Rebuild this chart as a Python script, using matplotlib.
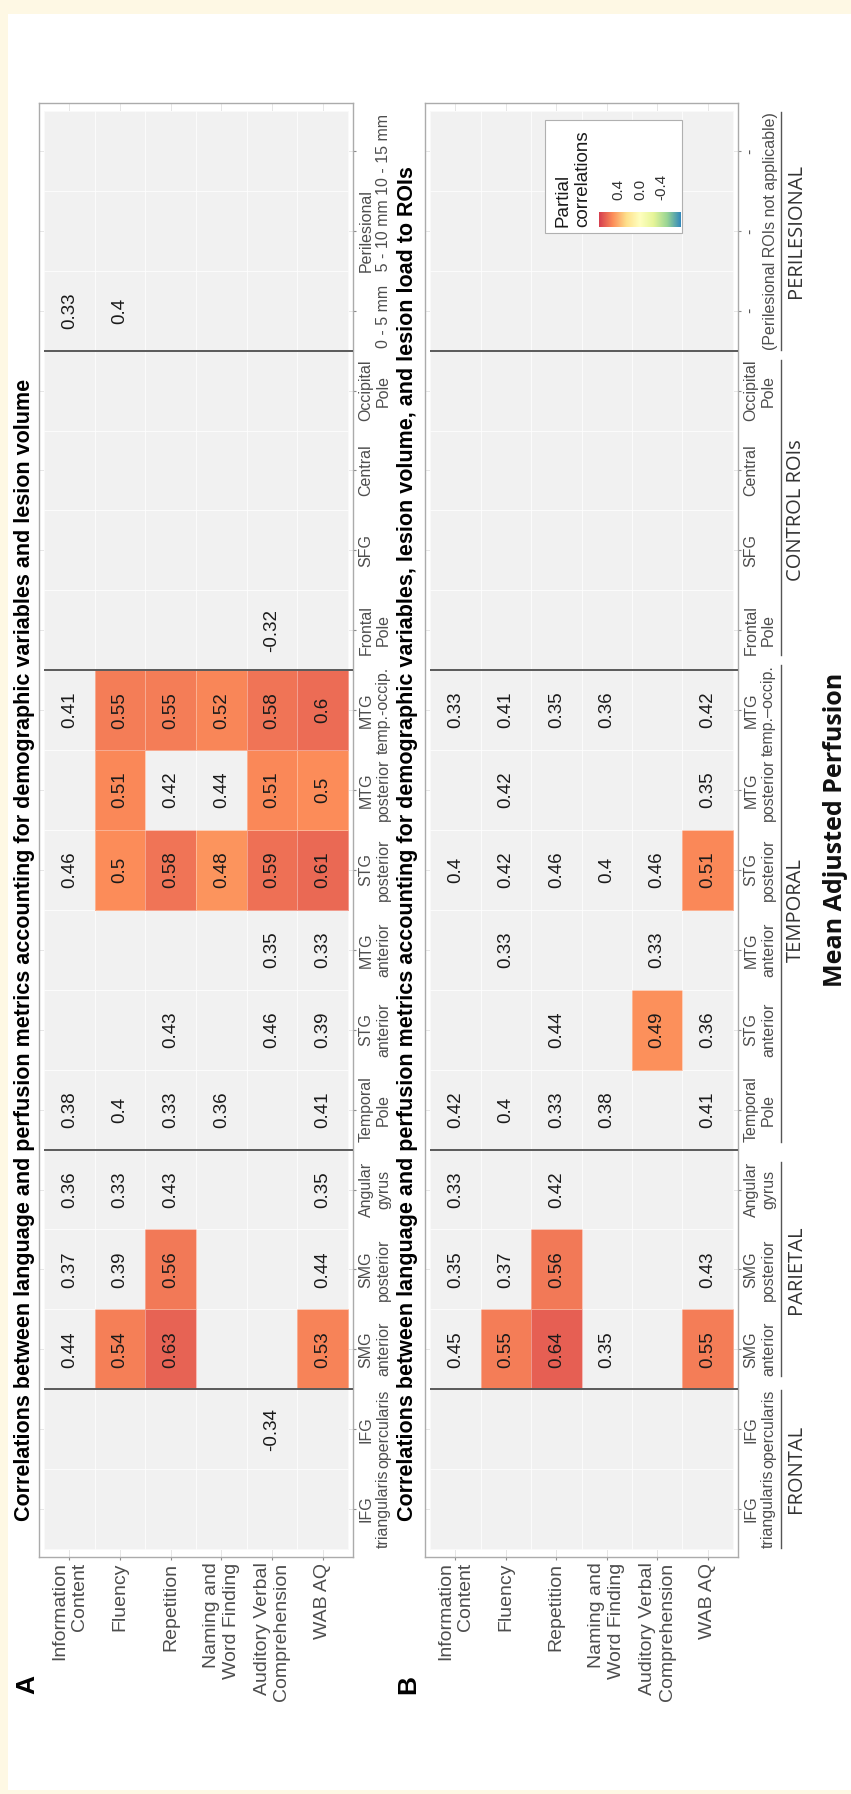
import numpy as np
import matplotlib
matplotlib.use("Agg")
import matplotlib.pyplot as plt
from matplotlib.colors import LinearSegmentedColormap, ListedColormap, Normalize
from matplotlib.patches import Rectangle
from matplotlib.lines import Line2D

plt.rcParams["font.family"] = ["Liberation Sans", "DejaVu Sans"]

W, H, DPI = 851, 1794, 100

# ---------------------------------------------------------------- data
measures = ["Information\nContent", "Fluency", "Repetition",
            "Naming and\nWord Finding", "Auditory Verbal\nComprehension", "WAB AQ"]

roi_labels_a = ["IFG\ntriangularis", "IFG\nopercularis", "SMG\nanterior", "SMG\nposterior",
                "Angular\ngyrus", "Temporal\nPole", "STG\nanterior", "MTG\nanterior",
                "STG\nposterior", "MTG\nposterior", "MTG\ntemp.-occip.", "Frontal\nPole",
                "SFG", "Central", "Occipital\nPole",
                "", "Perilesional\n0 - 5 mm   5 - 10 mm 10 - 15 mm", ""]
roi_labels_b = (roi_labels_a[:10] + ["MTG\ntemp.\u2013occip."] + roi_labels_a[11:15]
                + ["-", "-", "-"])
perilesional_note_b = "(Perilesional ROIs not applicable)"

groups = [("FRONTAL", 0, 1), ("PARIETAL", 2, 4), ("TEMPORAL", 5, 10),
          ("CONTROL ROIs", 11, 14), ("PERILESIONAL", 15, 17)]
group_breaks = [1.5, 4.5, 10.5, 14.5]

# partial correlations, ROI order as above (None = not shown)
a_information = [None, None, 0.44, 0.37, 0.36, 0.38, None, None, 0.46, None, 0.41, None, None, None, None, 0.33, None, None]
a_fluency     = [None, None, 0.54, 0.39, 0.33, 0.40, None, None, 0.50, 0.51, 0.55, None, None, None, None, 0.40, None, None]
a_repetition  = [None, None, 0.63, 0.56, 0.43, 0.33, 0.43, None, 0.58, 0.42, 0.55, None, None, None, None, None, None, None]
a_naming      = [None, None, None, None, None, 0.36, None, None, 0.48, 0.44, 0.52, None, None, None, None, None, None, None]
a_auditory    = [None, -0.34, None, None, None, None, 0.46, 0.35, 0.59, 0.51, 0.58, -0.32, None, None, None, None, None, None]
a_wab         = [None, None, 0.53, 0.44, 0.35, 0.41, 0.39, 0.33, 0.61, 0.50, 0.60, None, None, None, None, None, None, None]

b_information = [None, None, 0.45, 0.35, 0.33, 0.42, None, None, 0.40, None, 0.33, None, None, None, None, None, None, None]
b_fluency     = [None, None, 0.55, 0.37, None, 0.40, None, 0.33, 0.42, 0.42, 0.41, None, None, None, None, None, None, None]
b_repetition  = [None, None, 0.64, 0.56, 0.42, 0.33, 0.44, None, 0.46, None, 0.35, None, None, None, None, None, None, None]
b_naming      = [None, None, 0.35, None, None, 0.38, None, None, 0.40, None, 0.36, None, None, None, None, None, None, None]
b_auditory    = [None, None, None, None, None, None, 0.49, 0.33, 0.46, None, None, None, None, None, None, None, None, None]
b_wab         = [None, None, 0.55, 0.43, None, 0.41, 0.36, None, 0.51, 0.35, 0.42, None, None, None, None, None, None, None]

SIG_MIN = 0.47   # cells at or above this magnitude are filled with colour

title_a = ("Correlations between language and perfusion metrics accounting for "
           "demographic variables and lesion volume")
title_b = ("Correlations between language and perfusion metrics accounting for "
           "demographic variables, lesion volume, and lesion load to ROIs")

# ---------------------------------------------------------------- style
CREAM = "#FEF8E4"
NA_GREY = "#F1F1F1"
AXIS_TXT = "#4D4D4D"
BORDER = "#ABABAB"
ROI_FS = 11.5
spectral7 = ["#D53E4F", "#FC8D59", "#FEE08B", "#FFFFBF", "#E6F598", "#99D594", "#3288BD"]
cmap = LinearSegmentedColormap.from_list("spectral_r", spectral7[::-1])
norm = Normalize(-0.75, 0.75)


def fx(x):
    return x / W


def fy(y):
    return 1 - y / H


def axes_box(x0, x1, y0, y1):
    return [fx(x0), fy(y1), (x1 - x0) / W, (y1 - y0) / H]


fig = plt.figure(figsize=(W / DPI, H / DPI), dpi=DPI, facecolor=CREAM)
fig.patches.append(Rectangle((fx(8), fy(1790)), 1 - fx(8), (1790 - 14) / H,
                             transform=fig.transFigure, facecolor="white",
                             edgecolor="none", zorder=-5))


def draw_panel(box, rows, ylabels):
    ax = fig.add_axes(box)
    vals = np.array([[np.nan if v is None else v for v in r] for r in rows], dtype=float)
    C = vals.T
    xe = np.arange(len(measures) + 1) - 0.5
    ye = np.arange(len(ylabels) + 1) - 0.5
    ax.pcolormesh(xe, ye, np.zeros_like(C), cmap=ListedColormap([NA_GREY]),
                  edgecolors="#F7F7F7", linewidth=0.5, zorder=1)
    filled = np.ma.masked_where(~(np.abs(np.nan_to_num(C)) >= SIG_MIN), C)
    ax.pcolormesh(xe, ye, filled, cmap=cmap, norm=norm,
                  edgecolors=(1, 1, 1, 0.35), linewidth=0.6, zorder=2)
    for i in range(C.shape[1]):
        for j in range(C.shape[0]):
            v = C[j, i]
            if np.isfinite(v):
                ax.text(i, j, f"{v:g}", rotation=90, ha="center", va="center",
                        fontsize=13.5, color="#1A1A1A", zorder=4)
    for b in group_breaks:
        ax.plot([-0.5, 5.6], [b, b], color="#595959", lw=1.4, zorder=3,
                clip_on=False, solid_capstyle="butt")
    ax.set_xlim(-0.6, 5.6)
    ax.set_ylim(-0.6, len(ylabels) - 0.4)
    ax.set_xticks(range(len(measures)))
    ax.set_xticklabels(measures, rotation=90, ha="center", va="top",
                       multialignment="right", fontsize=14, color=AXIS_TXT)
    ax.yaxis.tick_right()
    ax.set_yticks(range(len(ylabels)))
    ax.set_yticklabels(ylabels, rotation=90, ha="left", va="center",
                       multialignment="center", fontsize=ROI_FS, color=AXIS_TXT)
    ax.tick_params(length=2.5, width=0.8, color="#8C8C8C", pad=1.5)
    ax.grid(True, color="#E6E6E6", lw=0.7)
    ax.set_axisbelow(True)
    for s in ax.spines.values():
        s.set_color(BORDER)
        s.set_linewidth(1.0)
    return ax


ax_a = draw_panel(axes_box(39, 353, 103, 1557),
                  [a_information, a_fluency, a_repetition, a_naming, a_auditory, a_wab],
                  roi_labels_a)
ax_b = draw_panel(axes_box(425, 738, 103, 1557),
                  [b_information, b_fluency, b_repetition, b_naming, b_auditory, b_wab],
                  roi_labels_b)

# second label line under the perilesional columns of panel B
fig.canvas.draw()
renderer = fig.canvas.get_renderer()
dash_box = ax_b.get_yticklabels()[16].get_window_extent(renderer)
line_step = ROI_FS * 1.2 * DPI / 72
note_b = ax_b.annotate(perilesional_note_b, xy=(dash_box.x0 / W, 16),
                       xycoords=(fig.transFigure, ax_b.transData),
                       xytext=(line_step, 0), textcoords="offset pixels",
                       rotation=90, ha="left", va="center",
                       fontsize=ROI_FS, color=AXIS_TXT, annotation_clip=False)

# panel titles and letters
fig.text(fx(25), fy(1521), title_a, rotation=90, ha="center", va="bottom",
         fontsize=15.5, fontweight="bold")
fig.text(fx(408), fy(1521), title_b, rotation=90, ha="center", va="bottom",
         fontsize=15.5, fontweight="bold")
fig.text(fx(27), fy(1684), "A", rotation=90, ha="center", va="center",
         fontsize=19, fontweight="bold")
fig.text(fx(408), fy(1684), "B", rotation=90, ha="center", va="center",
         fontsize=19, fontweight="bold")

# legend box with colour bar
fig.patches.append(Rectangle((fx(545), fy(233)), (682 - 545) / W, (233 - 120) / H,
                             transform=fig.transFigure, facecolor="white",
                             edgecolor="#B0B0B0", lw=0.8, zorder=5))
fig.text(fx(573), fy(227), "Partial\ncorrelations", rotation=90, ha="center",
         va="bottom", multialignment="left", fontsize=13.5, color="#1A1A1A", zorder=6)
cax = fig.add_axes(axes_box(599, 681, 212, 227), zorder=6)
grad = np.linspace(norm.vmax, norm.vmin, 256)[None, :]
cax.imshow(grad, cmap=cmap, norm=norm, aspect="auto",
           extent=(norm.vmax, norm.vmin, 0, 1))
cax.set_xlim(norm.vmax, norm.vmin)
cax.set_axis_off()
for v in [0.4, 0.0, -0.4]:
    cax.annotate(f"{v:.1f}", xy=(v, 1), xycoords=("data", "axes fraction"),
                 xytext=(0, 12), textcoords="offset pixels", rotation=90,
                 ha="center", va="bottom", fontsize=11, color="#333333")

# group brackets and labels under panel B
fig.canvas.draw()
renderer = fig.canvas.get_renderer()
labels_b = ax_b.get_yticklabels()
x_line = max([t.get_window_extent(renderer).x1 for t in labels_b if t.get_text()]
             + [note_b.get_window_extent(renderer).x1]) + 3
for name, j0, j1 in groups:
    boxes = [labels_b[j].get_window_extent(renderer) for j in range(j0, j1 + 1)
             if labels_b[j].get_text()]
    if j0 <= 16 <= j1:
        boxes.append(note_b.get_window_extent(renderer))
    y0 = min(b.y0 for b in boxes)
    y1 = max(b.y1 for b in boxes)
    fig.add_artist(Line2D([x_line / W, x_line / W], [y0 / H, y1 / H],
                          transform=fig.transFigure, color="#555555", lw=1.0))
    yc = ax_b.transData.transform((0, (j0 + j1) / 2))[1]
    fig.text(fx(796), yc / H, name, rotation=90, ha="center", va="center",
             fontsize=14.5, family="Open Sans", color="#333333")

fig.text(fx(835), fy(830), "Mean Adjusted Perfusion", rotation=90, ha="center",
         va="center", fontsize=18, fontweight="bold", family="Open Sans", color="#111111")

fig.savefig("out.png", dpi=DPI, facecolor=CREAM)
